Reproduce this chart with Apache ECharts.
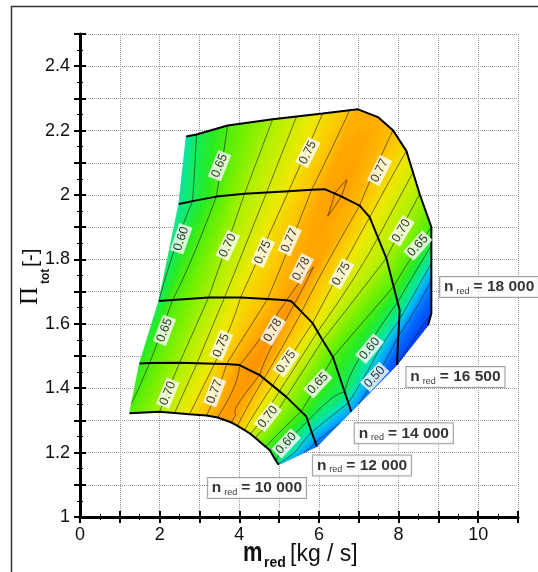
<!DOCTYPE html>
<html><head><meta charset="utf-8">
<script src="https://cdn.jsdelivr.net/npm/echarts@6/dist/echarts.min.js"></script>
<style>html,body{margin:0;padding:0;background:#fff}#chart{width:538px;height:572px}</style>
</head><body><div id="chart"></div>
<script>
// ---------- data ----------
const speedNames = ['10 000', '12 000', '14 000', '16 500', '18 000'];

const mRed10000 = [1.244, 1.997, 2.751, 3.178, 3.455, 3.756, 3.957, 4.133, 4.259, 4.399, 4.661, 4.761, 4.927, 4.987];
const piTot10000 = [1.322, 1.327, 1.319, 1.315, 1.309, 1.296, 1.283, 1.270, 1.260, 1.246, 1.218, 1.208, 1.174, 1.162];
const eta10000 = [0.655, 0.70, 0.75, 0.77, 0.78, 0.783, 0.77, 0.75, 0.73, 0.70, 0.65, 0.63, 0.60, 0.54];

const mRed12000 = [1.495, 1.746, 2.500, 3.379, 3.681, 4.008, 4.309, 4.510, 4.837, 5.181, 5.553, 5.683, 5.817, 5.950];
const piTot12000 = [1.477, 1.478, 1.479, 1.476, 1.475, 1.472, 1.453, 1.441, 1.408, 1.373, 1.328, 1.312, 1.264, 1.219];
const eta12000 = [0.63, 0.65, 0.70, 0.75, 0.77, 0.78, 0.784, 0.78, 0.75, 0.70, 0.65, 0.62, 0.55, 0.48];

const mRed14000 = [1.980, 2.324, 3.229, 4.033, 4.711, 5.188, 5.307, 5.565, 5.842, 6.093, 6.352, 6.646, 6.814];
const piTot14000 = [1.671, 1.674, 1.682, 1.682, 1.677, 1.673, 1.670, 1.637, 1.602, 1.549, 1.497, 1.389, 1.327];
const eta14000 = [0.60, 0.65, 0.70, 0.75, 0.77, 0.78, 0.784, 0.77, 0.75, 0.70, 0.65, 0.60, 0.51];

const mRed16500 = [2.482, 2.827, 3.422, 4.133, 5.239, 5.817, 6.143, 6.520, 7.023, 7.274, 7.693, 7.877, 7.977, 8.028, 7.995, 7.960];
const piTot16500 = [1.972, 1.981, 1.995, 2.004, 2.012, 2.016, 2.018, 1.998, 1.967, 1.931, 1.804, 1.716, 1.667, 1.642, 1.561, 1.472];
const eta16500 = [0.575, 0.60, 0.65, 0.70, 0.75, 0.77, 0.778, 0.781, 0.77, 0.75, 0.70, 0.65, 0.60, 0.58, 0.50, 0.45];

const mRed18000 = [2.668, 2.927, 3.706, 4.837, 5.440, 6.093, 6.771, 6.980, 7.482, 7.859, 8.196, 8.530, 8.824, 8.824, 8.824, 8.824, 8.739];
const piTot18000 = [2.182, 2.188, 2.216, 2.235, 2.244, 2.253, 2.263, 2.266, 2.242, 2.201, 2.137, 2.003, 1.900, 1.843, 1.735, 1.632, 1.595];
const eta18000 = [0.565, 0.60, 0.65, 0.70, 0.725, 0.75, 0.77, 0.776, 0.776, 0.77, 0.75, 0.70, 0.65, 0.60, 0.50, 0.45, 0.43];

const contourLevels = [0.45, 0.50, 0.55, 0.60, 0.65, 0.70, 0.725, 0.75, 0.77, 0.78];

const contourLabelText = ['0.65','0.75','0.77','0.60','0.70','0.75','0.77','0.78','0.75','0.70','0.65',
                          '0.65','0.75','0.78','0.75','0.70','0.77','0.70','0.60','0.65','0.60','0.50'];
const contourLabelM = [3.505, 5.724, 7.525, 2.543, 3.714, 4.593, 5.264, 5.558, 6.563, 8.070, 8.487,
                       2.123, 3.547, 4.845, 5.180, 2.206, 3.380, 4.719, 5.180, 5.975, 7.274, 7.400];
const contourLabelPi = [2.091, 2.132, 2.076, 1.864, 1.843, 1.822, 1.859, 1.771, 1.755, 1.889, 1.843,
                        1.580, 1.533, 1.580, 1.482, 1.384, 1.389, 1.311, 1.229, 1.415, 1.523, 1.435];
const contourLabelAngle = [68, 63, 63, 71, 65, 66, 66, 63, 60, 59, 48,
                           69, 67, 60, 55, 68, 69, 52, 47, 47, 50, 47];

const speedLabelM = [3.211, 5.849, 6.897, 8.196, 9.044];
const speedLabelPi = [1.090, 1.160, 1.260, 1.435, 1.714];

const xTickLabels = ['0', '2', '4', '6', '8', '10'];
const yTickLabels = ['1', '1.2', '1.4', '1.6', '1.8', '2', '2.2', '2.4'];

// ---------- helpers ----------
const speedSeriesData = [
  { m: mRed10000, pi: piTot10000, eta: eta10000 },
  { m: mRed12000, pi: piTot12000, eta: eta12000 },
  { m: mRed14000, pi: piTot14000, eta: eta14000 },
  { m: mRed16500, pi: piTot16500, eta: eta16500 },
  { m: mRed18000, pi: piTot18000, eta: eta18000 }
];

const colorStops = [
  [0.42, [0, 40, 255]],
  [0.48, [0, 100, 255]],
  [0.52, [0, 170, 255]],
  [0.56, [0, 225, 190]],
  [0.60, [20, 235, 90]],
  [0.63, [40, 235, 30]],
  [0.67, [110, 240, 0]],
  [0.71, [185, 240, 0]],
  [0.745, [238, 232, 0]],
  [0.77, [255, 192, 0]],
  [0.785, [255, 145, 0]]
];
function lerp(a, b, f) { return a + (b - a) * f; }
function etaColor(e) {
  const s = colorStops;
  const toStr = c => 'rgb(' + c.map(v => Math.round(v)).join(',') + ')';
  if (e <= s[0][0]) return toStr(s[0][1]);
  for (let i = 1; i < s.length; i++) {
    if (e <= s[i][0]) {
      const f = (e - s[i - 1][0]) / (s[i][0] - s[i - 1][0]);
      return toStr([0, 1, 2].map(c => lerp(s[i - 1][1][c], s[i][1][c], f)));
    }
  }
  return toStr(s[s.length - 1][1]);
}

const NU = 140, NV = 12;
function p2(p) { return p[0].toFixed(2) + ' ' + p[1].toFixed(2); }

function renderMap(params, api) {
  const lines = speedSeriesData.map(L => {
    const pts = L.m.map((m, i) => api.coord([m, L.pi[i]]));
    const s = [0];
    for (let i = 1; i < pts.length; i++) s.push(s[i - 1] + Math.hypot(pts[i][0] - pts[i - 1][0], pts[i][1] - pts[i - 1][1]));
    const tot = s[s.length - 1];
    return { pts, eta: L.eta, t: s.map(v => v / tot) };
  });
  let T = [];
  for (let j = 0; j <= NU; j++) T.push(j / NU);
  lines.forEach(l => l.t.forEach(v => T.push(v)));
  T.sort((a, b) => a - b);
  T = T.filter((v, i) => i === 0 || v - T[i - 1] > 1e-6);
  const sampled = lines.map(l => T.map(tv => {
    let k = 0;
    while (k < l.t.length - 2 && l.t[k + 1] < tv) k++;
    const d = l.t[k + 1] - l.t[k];
    const f = d > 0 ? Math.min(1, Math.max(0, (tv - l.t[k]) / d)) : 0;
    return [lerp(l.pts[k][0], l.pts[k + 1][0], f), lerp(l.pts[k][1], l.pts[k + 1][1], f), lerp(l.eta[k], l.eta[k + 1], f)];
  }));
  const G = [];
  for (let k = 0; k < sampled.length - 1; k++) {
    const last = k === sampled.length - 2;
    for (let r = 0; r <= (last ? NV : NV - 1); r++) {
      const f = r / NV;
      G.push(sampled[k].map((a, j) => {
        const b = sampled[k + 1][j];
        return [lerp(a[0], b[0], f), lerp(a[1], b[1], f), lerp(a[2], b[2], f)];
      }));
    }
  }
  const R = G.length, C = T.length;
  const bins = {};
  const step = 0.002;
  for (let i = 0; i < R - 1; i++) {
    for (let j = 0; j < C - 1; j++) {
      const c = [G[i][j], G[i][j + 1], G[i + 1][j + 1], G[i + 1][j]];
      const e = (c[0][2] + c[1][2] + c[2][2] + c[3][2]) / 4;
      const b = Math.round(e / step);
      (bins[b] = bins[b] || []).push('M' + p2(c[0]) + 'L' + p2(c[1]) + 'L' + p2(c[2]) + 'L' + p2(c[3]) + 'Z');
    }
  }
  const children = [];
  Object.keys(bins).forEach(b => {
    const col = etaColor(b * step);
    children.push({ type: 'path', shape: { pathData: bins[b].join('') }, style: { fill: col, stroke: col, lineWidth: 0.8 } });
  });
  contourLevels.forEach(L0 => {
    const L = L0 + 1e-6;
    const parts = [];
    for (let i = 0; i < R - 1; i++) {
      for (let j = 0; j < C - 1; j++) {
        const c = [G[i][j], G[i][j + 1], G[i + 1][j + 1], G[i + 1][j]];
        const pts = [];
        for (let e = 0; e < 4; e++) {
          const a = c[e], q = c[(e + 1) % 4];
          if ((a[2] - L) * (q[2] - L) < 0) {
            const f = (L - a[2]) / (q[2] - a[2]);
            pts.push([lerp(a[0], q[0], f), lerp(a[1], q[1], f)]);
          }
        }
        if (pts.length >= 2) {
          parts.push('M' + p2(pts[0]) + 'L' + p2(pts[1]));
          if (pts.length === 4) parts.push('M' + p2(pts[2]) + 'L' + p2(pts[3]));
        }
      }
    }
    if (parts.length) children.push({ type: 'path', shape: { pathData: parts.join('') }, style: { fill: 'none', stroke: '#1a1a1a', lineWidth: 0.6 } });
  });
  return { type: 'group', children };
}

// ---------- chart ----------
const chart = echarts.init(document.getElementById('chart'), null, { renderer: 'canvas' });
const font = 'Liberation Sans';
const tickStyle = { color: '#000', width: 2 };
const minorStyle = { color: '#000', width: 1 };
const xBase = { type: 'value', min: 0, max: 11, interval: 1 };
const yBase = { type: 'value', min: 1, max: 2.5, interval: 0.1 };
const txt = (text, f) => ({ text, font: f, fill: '#111', align: 'left', verticalAlign: 'middle', textAlign: 'left', textVerticalAlign: 'middle' });

const option = {
  animation: false,
  backgroundColor: '#fff',
  grid: { left: 80, top: 34, width: 438, height: 483 },
  xAxis: [
    Object.assign({}, xBase, {
      position: 'bottom',
      axisLine: { show: true, onZero: false, lineStyle: { color: '#000', width: 3 } },
      axisTick: { show: true, length: 6, lineStyle: tickStyle },
      minorTick: { show: true, splitNumber: 2, length: 3, lineStyle: minorStyle },
      axisLabel: { margin: 9, fontSize: 18, color: '#111', fontFamily: font,
        formatter: v => { const s = String(Math.round(v)); return xTickLabels.includes(s) ? s : ''; } },
      splitLine: { show: true, lineStyle: { type: 'dotted', color: '#999', width: 1 } },
      minorSplitLine: { show: false }
    }),
    Object.assign({}, xBase, {
      position: 'bottom', offset: 0,
      axisLine: { show: false },
      axisTick: { show: true, inside: true, length: 6, lineStyle: tickStyle },
      minorTick: { show: true, splitNumber: 2, length: 3, lineStyle: minorStyle },
      axisLabel: { show: false },
      splitLine: { show: false }
    })
  ],
  yAxis: [
    Object.assign({}, yBase, {
      position: 'left',
      axisLine: { show: true, onZero: false, lineStyle: { color: '#000', width: 3 } },
      axisTick: { show: true, length: 6, lineStyle: tickStyle },
      minorTick: { show: true, splitNumber: 2, length: 3, lineStyle: minorStyle },
      axisLabel: { margin: 10, fontSize: 18, color: '#111', fontFamily: font,
        formatter: v => { const k = Math.round(v * 10); const s = (k % 10 === 0) ? String(k / 10) : (k / 10).toFixed(1); return yTickLabels.includes(s) ? s : ''; } },
      splitLine: { show: true, lineStyle: { type: 'dotted', color: '#999', width: 1 } },
      minorSplitLine: { show: false }
    }),
    Object.assign({}, yBase, {
      position: 'left', offset: 0,
      axisLine: { show: false },
      axisTick: { show: true, inside: true, length: 6, lineStyle: tickStyle },
      minorTick: { show: true, splitNumber: 2, length: 3, lineStyle: minorStyle },
      axisLabel: { show: false },
      splitLine: { show: false }
    })
  ],
  graphic: [
    { type: 'rect', silent: true, z: -10, shape: { x: 11.5, y: 6.5, width: 900, height: 900 }, style: { fill: 'none', stroke: '#333', lineWidth: 1.5 } },
    { type: 'group', x: 37, y: 305, rotation: Math.PI / 2, silent: true, children: [
      { type: 'text', x: 0, y: -7, style: txt('Π', '25px "Liberation Serif"') },
      { type: 'text', x: 21, y: 9, style: txt('tot', 'bold 12px "Liberation Sans"') },
      { type: 'text', x: 38, y: -6, style: txt('[-]', '21px "Liberation Sans"') }
    ] },
    { type: 'text', x: 243, y: 553, scaleX: 0.78, silent: true, style: txt('m', 'bold 28px "Liberation Sans"') },
    { type: 'text', x: 264, y: 563, silent: true, style: txt('red', 'bold 14px "Liberation Sans"') },
    { type: 'text', x: 290, y: 555, silent: true, style: txt('[kg / s]', '23px "Liberation Sans"') }
  ],
  series: [
    { type: 'custom', silent: true, z: 1, data: [[0, 1]], encode: { x: 0, y: 1 }, renderItem: renderMap }
  ].concat(speedSeriesData.map(L => ({
    type: 'line', silent: true, z: 3, symbol: 'none',
    data: L.m.map((m, i) => [m, L.pi[i]]),
    lineStyle: { color: '#000', width: 2 }
  }))).concat([
    {
      type: 'scatter', silent: true, z: 5, symbolSize: 0,
      data: contourLabelText.map((t, i) => ({ name: t, value: [contourLabelM[i], contourLabelPi[i]], label: { rotate: contourLabelAngle[i] } })),
      label: { show: true, position: 'inside', formatter: p => p.name, color: '#000', fontSize: 12.5, fontFamily: font,
        backgroundColor: '#fff', padding: [1, 2, 0, 2], lineHeight: 13 }
    },
    {
      type: 'scatter', silent: true, z: 6, symbolSize: 0,
      data: speedNames.map((n, i) => ({ name: n, value: [speedLabelM[i], speedLabelPi[i]] })),
      label: {
        show: true, position: 'right', distance: 0,
        formatter: p => '{n|n}{sub|red}{v|= ' + p.name + '}',
        backgroundColor: '#fff', borderColor: '#888', borderWidth: 1, padding: [1, 4, 1, 4],
        rich: {
          n: { fontSize: 15.5, fontWeight: 'bold', fontFamily: font, color: '#000', lineHeight: 18 },
          sub: { fontSize: 9, fontFamily: font, color: '#000', lineHeight: 8, verticalAlign: 'bottom', padding: [0, 4, 0, 3] },
          v: { fontSize: 15.5, fontWeight: 'bold', fontFamily: font, color: '#000', lineHeight: 18 }
        }
      }
    }
  ])
};
chart.setOption(option);
</script></body></html>
